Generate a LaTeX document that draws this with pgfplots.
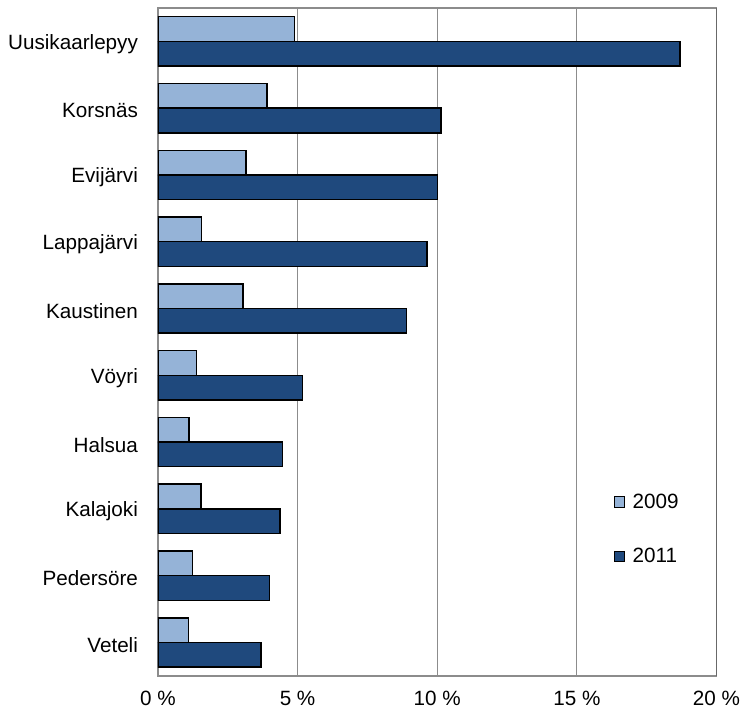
\documentclass[border=0pt]{standalone}
\usepackage{pgfplots}
\pgfplotsset{compat=1.18}
\usepackage{fontspec}
\setmainfont{Liberation Sans}
\definecolor{light}{HTML}{95B3D7}
\definecolor{dark}{HTML}{1F497D}
\definecolor{gridgray}{HTML}{8C8C8C}
\begin{document}
\begin{tikzpicture}
\begin{axis}[
  name=ax,
  scale only axis,
  width=419pt, height=501pt,
  xbar,
  bar width=18.5pt,
  xmin=0, xmax=20,
  ymin=-0.5, ymax=9.5,
  xtick={0,5,10,15,20},
  xticklabels={0 \%, 5 \%, 10 \%, 15 \%, 20 \%},
  ytick={0,...,9},
  yticklabels={Veteli,Pedersöre,Kalajoki,Halsua,Vöyri,Kaustinen,Lappajärvi,Evijärvi,Korsnäs,Uusikaarlepyy},
  major tick length=0pt,
  xmajorgrids,
  grid style={gridgray, line width=0.8pt},
  axis line style={gridgray, line width=1pt},
  tick label style={font=\fontsize{15.5}{18}\selectfont},
  yticklabel style={xshift=-11.5pt, yshift=-2pt},
  xticklabel style={yshift=-8pt},
  legend style={draw=none, fill=none, at={(rel axis cs:0.808,0.281)}, anchor=north west,
    font=\fontsize{15.5}{18}\selectfont, row sep=24.5pt,
    /tikz/every odd column/.append style={column sep=4pt}},
  legend cell align=left,
  legend image code/.code={\draw[#1, draw=black, line width=0.8pt] (0pt,-3.8pt) rectangle (7.6pt,3.8pt);},
]
\addplot[fill=light, draw=black, line width=1.1pt, bar shift=9.25pt] coordinates {
(1.10,0) (1.23,1) (1.54,2) (1.11,3) (1.38,4) (3.05,5) (1.56,6) (3.16,7) (3.91,8) (4.88,9)};
\addlegendentry{2009}
\addplot[fill=dark, draw=black, line width=1.1pt, bar shift=-9.25pt] coordinates {
(3.69,0) (4.00,1) (4.37,2) (4.46,3) (5.18,4) (8.90,5) (9.64,6) (10.01,7) (10.13,8) (18.69,9)};
\addlegendentry{2011}
\draw[black!85, line width=1pt] (rel axis cs:1,0) -- (rel axis cs:1,1);
\end{axis}
\pgfresetboundingbox
\path ([xshift=-118.5pt,yshift=-25.5pt]ax.south west) rectangle ([xshift=19.9pt,yshift=6pt]ax.north east);
\end{tikzpicture}
\end{document}
